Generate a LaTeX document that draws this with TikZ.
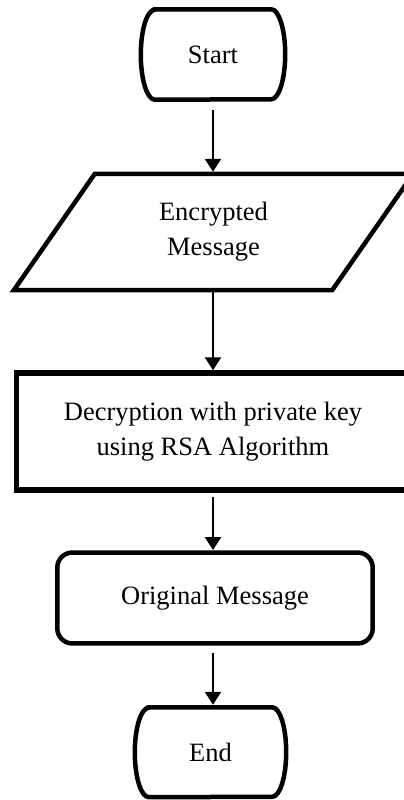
\documentclass[tikz,border=0pt]{standalone}
\usepackage{fontspec}
\setmainfont{Liberation Serif}
\usetikzlibrary{arrows.meta}
\begin{document}
\begin{tikzpicture}[x=1pt,y=1pt,
  lbl/.style={inner sep=0pt, align=center, font=\fontsize{26.5}{35}\selectfont},
  conn/.style={line width=2.4pt, -{Triangle[width=16pt,length=13pt]}},
  thick4/.style={line width=4.5pt},
]
\path[use as bounding box, clip] (0,0) rectangle (404,800);
\fill[white] (0,0) rectangle (404,800);

% Start terminal
\node[lbl, minimum width=144pt, minimum height=90pt] (start) at (213,745.5) {Start};
\draw[thick4] ([xshift=14pt]start.north west) -- ([xshift=-14pt]start.north east)
  arc[start angle=90, end angle=-90, x radius=14pt, y radius=45pt]
  -- ([xshift=14pt]start.south west)
  arc[start angle=270, end angle=90, x radius=14pt, y radius=45pt] -- cycle;

% Input parallelogram
\node[lbl, minimum width=318pt, minimum height=116pt] (enc) at (213.5,568) {Encrypted\\Message};
\draw[thick4] ([xshift=-40.5pt]enc.south west) -- ([xshift=-40.5pt]enc.south east)
  -- ([xshift=40.5pt]enc.north east) -- ([xshift=40.5pt]enc.north west) -- cycle;

% Process rectangle
\node[lbl, minimum width=393pt, minimum height=117pt] (rect) at (213,368.5) {Decryption with private key\\using RSA Algorithm};
\draw[line width=5.5pt] (rect.south west) rectangle (rect.north east);

% Rounded box
\node[lbl, minimum width=315pt, minimum height=90.5pt] (orig) at (215,202) {Original Message};
\draw[thick4, rounded corners=15pt] (orig.south west) rectangle (orig.north east);

% End terminal
\node[lbl, minimum width=151pt, minimum height=89.5pt] (stop) at (210.5,47.75) {End};
\draw[thick4] ([xshift=14pt]stop.north west) -- ([xshift=-14pt]stop.north east)
  arc[start angle=90, end angle=-90, x radius=14pt, y radius=44.75pt]
  -- ([xshift=14pt]stop.south west)
  arc[start angle=270, end angle=90, x radius=14pt, y radius=44.75pt] -- cycle;

% Connectors
\draw[conn, shorten <=10.5pt, shorten >=2pt] (start.south) -- (start.south |- enc.north);
\draw[conn, shorten <=2pt, shorten >=2.5pt] (enc.south -| start.south) -- (start.south |- rect.north);
\draw[conn, shorten <=7pt, shorten >=2.5pt] (rect.south) -- (rect.south |- orig.north);
\draw[conn, shorten <=10pt, shorten >=2.5pt] (orig.south -| rect.south) -- (rect.south |- stop.north);
\end{tikzpicture}
\end{document}
